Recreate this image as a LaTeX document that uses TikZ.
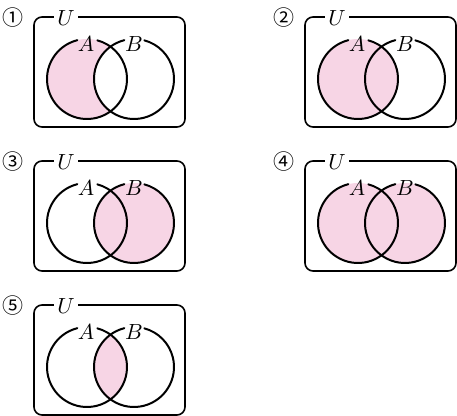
\documentclass[tikz,border=0pt]{standalone}
\usepackage{fontspec}
\newfontfamily\cjk{Noto Sans CJK JP}
\definecolor{venpink}{RGB}{247,213,229}
\tikzset{pinkarea/.style={fill=venpink}}
\begin{document}
\begin{tikzpicture}[x=0.5pt, y=0.5pt, line join=round, line cap=round, font=\fontsize{11}{13}\selectfont]
    \useasboundingbox (0,0) rectangle (457,-416);
    \def\w{151} \def\hh{110}   % size of U
    \def\ax{53} \def\bx{100}   % centres of A and B
    \def\cy{-62} \def\rad{40}  % height and radius of the circles
    % ============= ONE PANEL
    \newcommand{\venn}[5]{
    \begin{scope}[shift={(#1,#2)}]
        \begin{scope}
            #5
        \end{scope}
        \draw[line width=0.8pt, rounded corners=4pt] (0,0) rectangle (\w,-\hh);
        \draw[line width=1pt] (\ax,\cy) ++(104:\rad) arc[start angle=104, end angle=435, radius=\rad];
        \draw[line width=1pt] (\bx,\cy) ++(104:\rad) arc[start angle=104, end angle=435, radius=\rad];
        \node[fill=white, inner sep=1.5pt] (U#3) at (32,-1) {$U$};
        \node[inner sep=0pt] (A#3) at (52,-27) {$A$};
        \node[inner sep=0pt] (B#3) at (100,-27) {$B$};
        \node[font=\cjk\fontsize{10.5}{12}\selectfont, inner sep=0pt] (N#3) at (-20.5,-1) {#4};
    \end{scope}
    }
    % ============= THE FIVE SETS
    \venn{34}{-17}{1}{①}{
        \fill[pinkarea] (\ax,\cy) circle[radius=\rad];
        \fill[white] (\bx,\cy) circle[radius=\rad];}
    \venn{305}{-17}{2}{②}{
        \fill[pinkarea] (\ax,\cy) circle[radius=\rad];}
    \venn{34}{-161}{3}{③}{
        \fill[pinkarea] (\bx,\cy) circle[radius=\rad];}
    \venn{305}{-161}{4}{④}{
        \fill[pinkarea] (\ax,\cy) circle[radius=\rad] (\bx,\cy) circle[radius=\rad];}
    \venn{34}{-305}{5}{⑤}{
        \clip (\ax,\cy) circle[radius=\rad];
        \fill[pinkarea] (\bx,\cy) circle[radius=\rad];}
\end{tikzpicture}
\end{document}
